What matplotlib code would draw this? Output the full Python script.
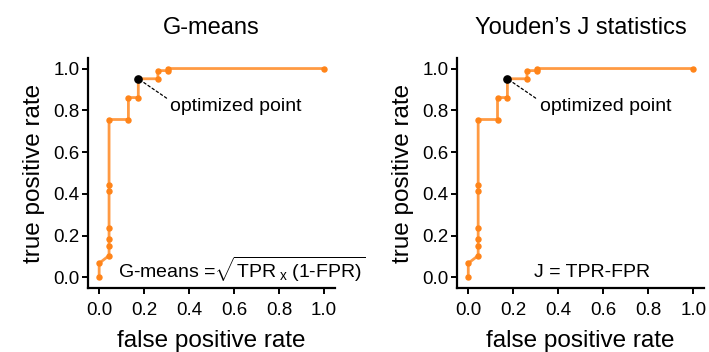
import matplotlib
matplotlib.use("Agg")
import matplotlib.pyplot as plt

plt.rcParams["font.family"] = ["Liberation Sans", "DejaVu Sans"]
plt.rcParams["mathtext.fontset"] = "custom"
plt.rcParams["mathtext.rm"] = "Liberation Sans"
plt.rcParams["mathtext.it"] = "Liberation Sans:italic"
plt.rcParams["mathtext.bf"] = "Liberation Sans:bold"

# ROC curve points
fpr = [0.0, 0.0, 0.044, 0.044, 0.044, 0.044, 0.044, 0.044, 0.044,
       0.130, 0.130, 0.174, 0.174, 0.261, 0.261, 0.304, 0.304, 1.0]
tpr = [0.0, 0.068, 0.105, 0.153, 0.183, 0.236, 0.416, 0.443, 0.756,
       0.756, 0.861, 0.861, 0.951, 0.951, 0.990, 0.990, 1.0, 1.0]

# chosen threshold (same for both criteria)
opt_fpr = 0.174
opt_tpr = 0.951

titles = ["G-means", "Youden\u2019s J statistics"]
formulas = [r"G-means =$\sqrt{\mathrm{TPR}\;_{\mathrm{x}}\;\mathrm{(1}\text{-}\mathrm{FPR)}}$",
            "J = TPR-FPR"]
formula_x = [0.083, 0.292]
ticks = [0.0, 0.2, 0.4, 0.6, 0.8, 1.0]
tick_labels = ["0.0", "0.2", "0.4", "0.6", "0.8", "1.0"]

orange = "#ff8419"

fig = plt.figure(figsize=(7.09, 3.52), dpi=100)
lefts = [0.124, 0.6446]
for i in range(2):
    ax = fig.add_axes([lefts[i], 0.182, 0.349, 0.653])
    ax.plot(fpr, tpr, color=orange, lw=2.0, alpha=0.82, zorder=2)
    ax.plot(fpr, tpr, ls="none", marker="o", ms=3.6, color=orange,
            zorder=3)
    ax.plot([opt_fpr], [opt_tpr], ls="none", marker="o", ms=5.2,
            color="black", zorder=4)
    ax.annotate("optimized point", xy=(opt_fpr, opt_tpr),
                xytext=(0.317, 0.817), va="center", ha="left",
                fontsize=14,
                arrowprops=dict(arrowstyle="-", ls=(0, (2, 2)), lw=0.9,
                                color="black", shrinkA=1, shrinkB=3,
                                relpos=(0.0, 0.85)))
    ax.text(formula_x[i], 0.0, formulas[i], fontsize=14, ha="left",
            va="baseline")
    ax.set_xlim(-0.05, 1.05)
    ax.set_ylim(-0.05, 1.05)
    ax.set_xticks(ticks)
    ax.set_xticklabels(tick_labels)
    ax.set_yticks(ticks)
    ax.set_yticklabels(tick_labels)
    ax.tick_params(labelsize=13.5, length=4, width=1.4, pad=6)
    ax.tick_params(axis="y", pad=2)
    for side in ("top", "right"):
        ax.spines[side].set_visible(False)
    for side in ("left", "bottom"):
        ax.spines[side].set_linewidth(1.6)
    ax.set_xlabel("false positive rate", fontsize=17.5, labelpad=8)
    ax.set_ylabel("true positive rate", fontsize=17.5, labelpad=6)
    ax.set_title(titles[i], fontsize=17, pad=17.5)

fig.savefig("out.png", dpi=100)
